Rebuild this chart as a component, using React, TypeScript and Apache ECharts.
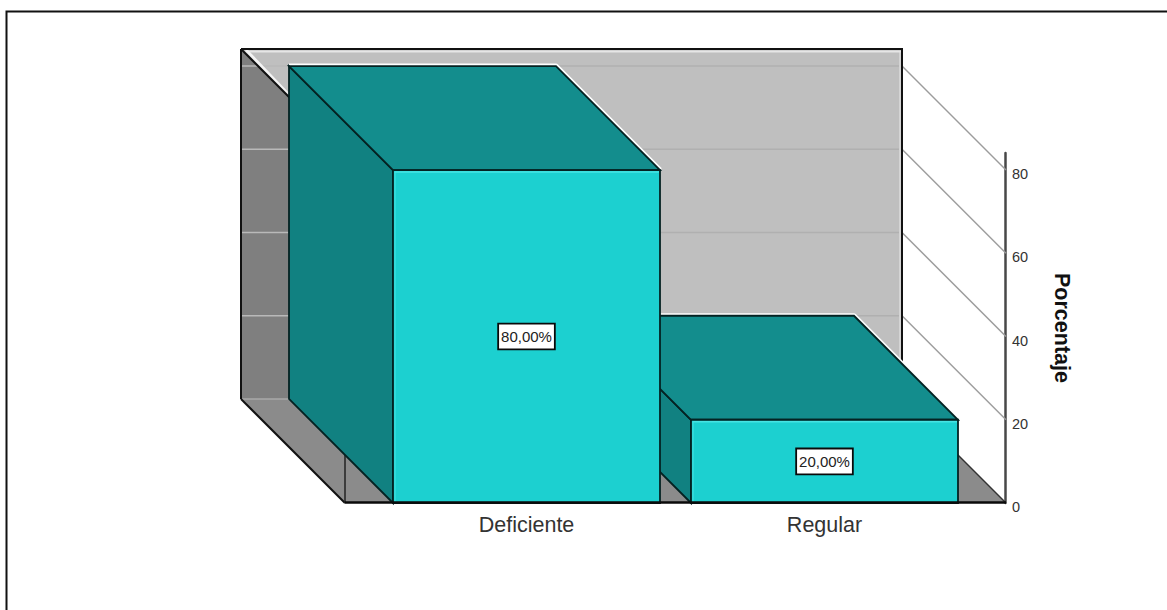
import React, { useEffect, useRef } from "react";
import * as echarts from "echarts";

const categories = ["Deficiente", "Regular"];
const percentages = [80, 20];
const tickValues = [0, 20, 40, 60, 80];
const wallLines = [20, 40, 60, 80];
const axisName = "Porcentaje";
const axisMax = 84.1;

const depth = 104;
const barRatio = 267 / 298;
const sidePad = 32.5;
const fontFamily = "'Liberation Sans', Arial, sans-serif";

const edge = (x1: number, y1: number, x2: number, y2: number, stroke: string, lineWidth: number, z2: number) => ({
  type: "line",
  shape: { x1, y1, x2, y2 },
  style: { stroke, lineWidth, fill: "none" },
  z2,
  silent: true,
});

const poly = (points: number[][], fill: string, z2: number, stroke?: string, lineWidth = 0) => ({
  type: "polygon",
  shape: { points },
  style: { fill, stroke: stroke ?? "none", lineWidth, lineJoin: "miter" },
  z2,
  silent: true,
});

// Back wall, left wall, floor and the lines running across them.
function renderRoom(params: any, api: any) {
  const rect = params.coordSys;
  const left = rect.x - sidePad;
  const right = rect.x + rect.width + sidePad;
  const bottom = api.coord([0, 0])[1];
  const top = rect.y;
  const backLeft = left - depth;
  const backRight = right - depth;
  const backBottom = bottom - depth;
  const backTop = top - depth;

  const children: any[] = [
    poly([[backLeft, backTop], [backRight, backTop], [backRight, backBottom], [backLeft, backBottom]], "#bfbfbf", 1),
    poly([[backLeft, backTop], [left, top], [left, bottom], [backLeft, backBottom]], "#7f7f7f", 2),
  ];

  wallLines.forEach((v) => {
    const y = api.coord([0, v])[1];
    children.push(edge(left, y - depth, backRight, y - depth, "#b0b0b0", 1.5, 1));
    children.push(edge(backLeft + 1, y - depth, backLeft + 48, y - depth, "#b9b9b9", 1.5, 3));
    children.push(edge(backRight, y - depth, right, y, "#9c9c9c", 1.5, 3));
  });

  children.push(
    poly([[backLeft, backBottom], [backRight, backBottom], [right, bottom], [left, bottom]], "#8b8b8b", 4),
    // soft highlights along the inside of the walls
    edge(backLeft + 6, backTop + 2.5, backRight - 1, backTop + 2.5, "#e6e6e6", 2, 5),
    edge(backRight - 2, backTop + 2, backRight - 2, backBottom, "#d4d4d4", 2, 2),
    edge(backLeft + 5, backTop + 1, left - 55, top - 57, "#f4f4f4", 3, 5),
    edge(backLeft + 1, backBottom, left, backBottom, "#a8a8a8", 1.5, 5),
    // outlines
    edge(backLeft, backTop, backRight + 1, backTop, "#111", 2, 6),
    edge(backRight, backTop, backRight, backBottom, "#111", 2, 6),
    edge(backLeft, backTop, backLeft, backBottom, "#111", 2, 6),
    edge(backLeft, backTop, left, top, "#111", 2, 6),
    edge(backLeft, backBottom, left, bottom, "#111", 2, 6),
    edge(left, top, left, bottom, "#222", 1.5, 6),
    edge(backRight, backBottom, right, bottom, "#333", 1.5, 6)
  );

  return { type: "group", children };
}

// One solid block: side face, top face, front face and its value box.
function renderBar(params: any, api: any) {
  const index = params.dataIndex;
  const value = api.value(1);
  const [cx, yTop] = api.coord([api.value(0), value]);
  const yBase = api.coord([api.value(0), 0])[1];
  const width = api.size([1, 0])[0] * barRatio;
  const x0 = cx - width / 2;
  const x1 = cx + width / 2;
  const base = 20 + (categories.length - index) * 10;
  const outline = "#042222";
  const label = value.toFixed(2).replace(".", ",") + "%";

  return {
    type: "group",
    children: [
      {
        type: "polyline",
        shape: { points: [[x0 - depth, yTop - depth], [x1 - depth, yTop - depth], [x1, yTop]] },
        style: { stroke: "#ffffff", lineWidth: 5, fill: "none", lineJoin: "round", lineCap: "butt" },
        z2: base,
        silent: true,
      },
      poly([[x0 - depth, yTop - depth], [x0, yTop], [x0, yBase], [x0 - depth, yBase - depth]], "#118181", base + 1, outline, 1.8),
      poly([[x0 - depth, yTop - depth], [x1 - depth, yTop - depth], [x1, yTop], [x0, yTop]], "#138d8d", base + 1, outline, 1.8),
      poly([[x0, yTop], [x1, yTop], [x1, yBase], [x0, yBase]], "#1cd0d0", base + 2, outline, 1.8),
      edge(x0 + 1.5, yTop + 2, x1 - 1, yTop + 2, "#45e4e4", 1.5, base + 3),
      edge(x0 + 2, yTop + 2, x0 + 2, yBase - 1, "#45e4e4", 1, base + 3),
      {
        type: "text",
        x: cx,
        y: (yTop + yBase) / 2,
        z2: base + 4,
        silent: true,
        style: {
          text: label,
          align: "center",
          verticalAlign: "middle",
          fontFamily,
          fontSize: 15,
          fill: "#222",
          backgroundColor: "#ffffff",
          borderColor: "#0a0a0a",
          borderWidth: 1.8,
          padding: [5, 2, 4, 2],
        },
      },
    ],
  };
}

// Base line along the front of the floor, above the blocks.
function renderBaseLine(params: any, api: any) {
  const rect = params.coordSys;
  const y = api.coord([0, 0])[1];
  return edge(rect.x - sidePad, y - 0.5, rect.x + rect.width + sidePad, y - 0.5, "#0a0a0a", 2.5, 60);
}

export default function App() {
  const ref = useRef<HTMLDivElement>(null);

  useEffect(() => {
    if (!ref.current) return;
    const chart = echarts.init(ref.current, undefined, { renderer: "svg" });
    chart.setOption({
      animation: false,
      backgroundColor: "#ffffff",
      grid: { left: 377.5, width: 596, top: 153, height: 350 },
      xAxis: {
        type: "category",
        data: categories,
        axisLine: { show: false },
        axisTick: { show: false },
        axisLabel: { fontFamily, fontSize: 21.5, color: "#333", margin: 11 },
      },
      yAxis: {
        type: "value",
        position: "right",
        offset: 31.5,
        min: 0,
        max: axisMax,
        interval: 20,
        splitLine: { show: false },
        axisTick: { show: false },
        axisLine: { show: true, lineStyle: { color: "#484848", width: 2.5 } },
        axisLabel: {
          customValues: tickValues,
          fontFamily,
          fontSize: 14.5,
          color: "#333",
          margin: 7,
          verticalAlign: "top",
          lineHeight: 8,
        },
        name: axisName,
        nameLocation: "middle",
        nameRotate: -90,
        nameGap: 46,
        nameTextStyle: { fontFamily, fontSize: 21.5, fontWeight: "bold", color: "#111" },
      },
      series: [
        { type: "custom", coordinateSystem: "cartesian2d", renderItem: renderRoom, data: [[0, 0]], silent: true, z: 1 },
        {
          type: "custom",
          coordinateSystem: "cartesian2d",
          renderItem: renderBar,
          data: percentages.map((v, i) => [i, v]),
          encode: { x: 0, y: 1 },
          silent: true,
          z: 2,
        },
        { type: "custom", coordinateSystem: "cartesian2d", renderItem: renderBaseLine, data: [[0, 0]], silent: true, z: 3 },
      ],
      graphic: [
        {
          type: "polyline",
          shape: { points: [[6.5, 610], [6.5, 11.5], [1167, 11.5]] },
          style: { stroke: "#111", lineWidth: 2, fill: "none" },
          silent: true,
        },
      ],
    });
    return () => chart.dispose();
  }, []);

  return <div ref={ref} style={{ position: "absolute", left: 0, top: 0, width: 1167, height: 610 }} />;
}
